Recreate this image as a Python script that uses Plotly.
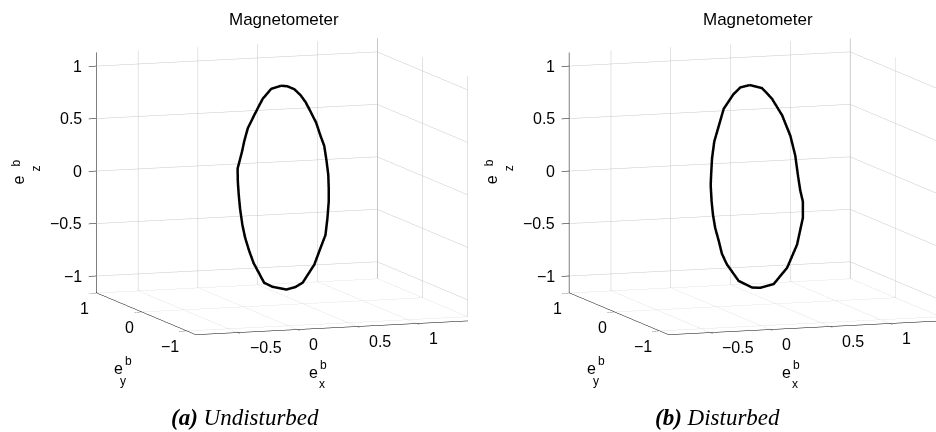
import plotly.graph_objects as go

# Normalised magnetometer samples (body frame), one closed loop per case
undist_x = [0.33, 0.33, 0.33, 0.34, 0.33, 0.33, 0.33, 0.32, 0.33, 0.33, 0.33, 0.33, 0.33, 0.33, 0.33,
            0.33, 0.32, 0.33, 0.33, 0.33, 0.33, 0.33, 0.33, 0.34, 0.33, 0.33, 0.33, 0.33, 0.33, 0.33,
            0.32, 0.33, 0.33, 0.33, 0.33, 0.33, 0.33]
undist_y = [0.04, 0.26, 0.45, 0.67, 0.78, 0.86, 0.91, 0.98, 1.00, 0.98, 0.95, 0.90, 0.84, 0.75, 0.65,
            0.52, 0.39, 0.23, -0.08, -0.28, -0.44, -0.70, -0.82, -0.92, -0.99, -1.02, -1.02, -1.01,
            -0.97, -0.92, -0.85, -0.74, -0.51, -0.39, -0.25, -0.10, 0.04]
undist_z = [0.92, 0.85, 0.72, 0.52, 0.38, 0.24, 0.13, -0.04, -0.17, -0.29, -0.42, -0.56, -0.67, -0.78,
            -0.88, -0.96, -1.02, -1.03, -1.00, -0.94, -0.87, -0.65, -0.49, -0.33, -0.16, 0.01, 0.13,
            0.26, 0.39, 0.52, 0.62, 0.71, 0.86, 0.91, 0.94, 0.94, 0.92]

dist_x = [0.33, 0.33, 0.33, 0.33, 0.33, 0.33, 0.33, 0.33, 0.33, 0.33, 0.33, 0.33, 0.33, 0.33, 0.33,
          0.33, 0.33, 0.33, 0.33, 0.33, 0.33, 0.33, 0.33, 0.33, 0.33, 0.33, 0.33, 0.33, 0.33, 0.33, 0.33]
dist_y = [0.13, 0.34, 0.49, 0.71, 0.86, 0.92, 0.97, 0.99, 1.00, 0.98, 0.95, 0.90, 0.82, 0.75, 0.64,
          0.38, 0.08, -0.10, -0.40, -0.70, -0.92, -1.05, -1.05, -0.99, -0.94, -0.88, -0.77, -0.59,
          -0.36, -0.14, 0.13]
dist_z = [0.91, 0.85, 0.76, 0.58, 0.33, 0.23, 0.06, -0.10, -0.20, -0.35, -0.47, -0.59, -0.70, -0.81,
          -0.89, -1.00, -1.01, -0.98, -0.89, -0.68, -0.42, -0.14, 0.01, 0.11, 0.24, 0.42, 0.59, 0.75,
          0.87, 0.93, 0.91]

x_range = [-0.85, 1.5]
y_range = [-1.2, 1.01]
z_range = [-1.16, 1.13]
x_ticks = [-0.5, 0, 0.5, 1, 1.5]
y_ticks = [-1, 0, 1]
z_ticks = [-1, -0.5, 0, 0.5, 1]
x_labelled = [-0.5, 0, 0.5, 1]

FONT = "Liberation Sans, Arial, Helvetica, sans-serif"
SERIF = "Liberation Serif, Times New Roman, serif"
TICK_SIZE = 16


def fmt(v):
    return ("\u2212" + f"{abs(v):g}") if v < 0 else f"{v:g}"


def axis(rng, ticks):
    return dict(
        title=dict(text=""),
        range=rng,
        tickvals=ticks,
        showticklabels=False,
        showbackground=False,
        showgrid=True,
        gridcolor="#c6c6c6",
        gridwidth=1,
        showline=True,
        linecolor="black",
        linewidth=1,
        ticks="outside",
        ticklen=8,
        tickcolor="black",
        zeroline=False,
        showspikes=False,
        autorange=False,
    )


def text(x, y, z, s, size=TICK_SIZE, xanchor="center", yanchor="middle", dx=0, dy=0, angle=0):
    return dict(x=x, y=y, z=z, text=s, showarrow=False, xanchor=xanchor, yanchor=yanchor,
                xshift=dx, yshift=dy, textangle=angle,
                font=dict(family=FONT, size=size, color="black"))


def scene_annotations():
    x0, y0, z0 = x_range[0], y_range[0], z_range[0]
    y1 = y_range[1]
    ann = []
    for v in x_labelled:
        ann.append(text(v, y0, z0, fmt(v), xanchor="left", dx=10, dy=-15))
    for v in y_ticks:
        ann.append(text(x0, v, z0, fmt(v), xanchor="right", dx=-6, dy=-15))
    for v in z_ticks:
        ann.append(text(x0, y1, v, fmt(v), xanchor="right", dx=-12))
    # axis names e_x^b, e_y^b, e_z^b (sub- and superscript stacked)
    ann += [text(0.3, y0, z0, "e", dx=-20, dy=-44),
            text(0.3, y0, z0, "b", size=12, dx=-10, dy=-37),
            text(0.3, y0, z0, "x", size=12, dx=-11, dy=-56)]
    ann += [text(x0, -0.1, z0, "e", dx=-28, dy=-54),
            text(x0, -0.1, z0, "b", size=12, dx=-18, dy=-47),
            text(x0, -0.1, z0, "y", size=12, dx=-23, dy=-67)]
    ann += [text(x0, y1, 0, "e", dx=-78, dy=-9, angle=-90),
            text(x0, y1, 0, "b", size=12, dx=-80, dy=8, angle=-90),
            text(x0, y1, 0, "z", size=12, dx=-60, dy=3, angle=-90)]
    return ann


# viewing direction (azimuth about -19 deg, elevation about 8 deg)
eye_dir = (-0.324, -0.935, 0.146)
dist = 2.0
BOX = 1.53
X_BOX = BOX * (x_range[1] - x_range[0]) / 2.4


def camera(look_at):
    return dict(
        eye=dict(x=look_at[0] + eye_dir[0] * dist, y=look_at[1] + eye_dir[1] * dist,
                 z=look_at[2] + eye_dir[2] * dist),
        center=dict(x=look_at[0], y=look_at[1], z=look_at[2]),
        up=dict(x=0, y=0, z=1),
        projection=dict(type="orthographic"),
    )


def scene(domain_x, look_at):
    return dict(
        domain=dict(x=domain_x, y=[0.08, 1.0]),
        xaxis=axis(x_range, x_ticks),
        yaxis=axis(y_range, y_ticks),
        zaxis=axis(z_range, z_ticks),
        aspectmode="manual",
        aspectratio=dict(x=X_BOX, y=BOX, z=0.8 * BOX),
        camera=camera(look_at),
        bgcolor="white",
        annotations=scene_annotations(),
        dragmode=False,
    )


fig = go.Figure()
fig.add_trace(go.Scatter3d(x=undist_x, y=undist_y, z=undist_z, mode="lines",
                           line=dict(color="black", width=5), scene="scene",
                           showlegend=False, hoverinfo="skip"))
fig.add_trace(go.Scatter3d(x=dist_x, y=dist_y, z=dist_z, mode="lines",
                           line=dict(color="black", width=5), scene="scene2",
                           showlegend=False, hoverinfo="skip"))

annotations = [
    dict(text="Magnetometer", x=284 / 936, y=1 - 19 / 432, xref="paper", yref="paper",
         xanchor="center", yanchor="middle", showarrow=False,
         font=dict(family=FONT, size=17, color="black")),
    dict(text="Magnetometer", x=758 / 936, y=1 - 19 / 432, xref="paper", yref="paper",
         xanchor="center", yanchor="middle", showarrow=False,
         font=dict(family=FONT, size=17, color="black")),
    dict(text="<b><i>(a)</i></b><i> Undisturbed</i>", x=245 / 936, y=1 - 417 / 432,
         xref="paper", yref="paper", xanchor="center", yanchor="middle", showarrow=False,
         font=dict(family=SERIF, size=23, color="black")),
    dict(text="<b><i>(b)</i></b><i> Disturbed</i>", x=717 / 936, y=1 - 417 / 432,
         xref="paper", yref="paper", xanchor="center", yanchor="middle", showarrow=False,
         font=dict(family=SERIF, size=23, color="black")),
]

fig.update_layout(
    width=936, height=432,
    margin=dict(l=0, r=0, t=0, b=0),
    paper_bgcolor="white",
    scene=scene([0.0, 0.5], (-0.253, 0.078, -0.060)),
    scene2=scene([0.5, 1.0], (-0.276, 0.086, -0.060)),
    annotations=annotations,
)

fig.write_html("out.html")
